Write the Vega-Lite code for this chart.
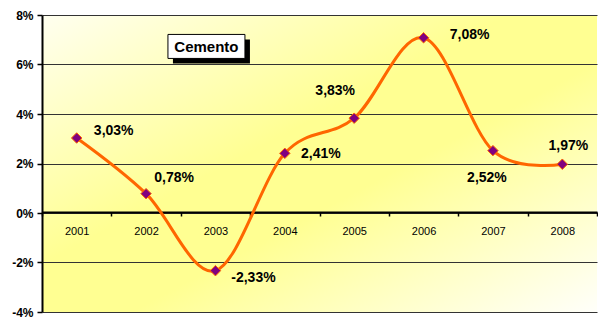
{
  "$schema": "https://vega.github.io/schema/vega-lite/v6.json",
  "width": 555,
  "height": 297,
  "autosize": {"type": "none"},
  "padding": {"left": 42, "top": 15, "right": 1, "bottom": 7},
  "background": "white",
  "config": {
    "font": "Liberation Sans",
    "view": {
      "stroke": null,
      "fill": {"gradient": "linear", "x1": 0, "y1": 0, "x2": 1, "y2": 1,
        "stops": [
          {"offset": 0, "color": "#FFFFF0"},
          {"offset": 0.42, "color": "#FFFF92"},
          {"offset": 0.58, "color": "#FFFF92"},
          {"offset": 1, "color": "#FFFFFA"}
        ]}
    },
    "locale": {"number": {"decimal": ",", "thousands": ".", "grouping": [3], "currency": ["", " €"], "minus": "-"}}
  },
  "data": {
    "values": [
      {"year": "2001", "v": 0.0303},
      {"year": "2002", "v": 0.0078},
      {"year": "2003", "v": -0.0233},
      {"year": "2004", "v": 0.0241},
      {"year": "2005", "v": 0.0383},
      {"year": "2006", "v": 0.0708},
      {"year": "2007", "v": 0.0252},
      {"year": "2008", "v": 0.0197}
    ]
  },
  "layer": [
    {
      "mark": {"type": "line", "interpolate": "cardinal", "color": "#FF6600", "strokeWidth": 3},
      "encoding": {
        "x": {"field": "year", "type": "ordinal", "title": null,
          "scale": {"type": "band", "paddingInner": 0, "paddingOuter": 0},
          "axis": {"offset": -100, "domainColor": "black", "domainWidth": 2, "tickColor": "black", "tickSize": 4, "tickWidth": 1.5,
            "tickBand": "extent", "labelAngle": 0, "labelFontSize": 11, "labelColor": "black", "labelPadding": 9, "labelFont": "Liberation Sans"}},
        "y": {"field": "v", "type": "quantitative", "title": null,
          "scale": {"domain": [-0.04, 0.08], "nice": false, "zero": false},
          "axis": {"values": [-0.04, -0.02, 0, 0.02, 0.04, 0.06, 0.08], "format": ".0%", "grid": true, "gridColor": "#333333", "gridWidth": 1,
            "domainColor": "black", "domainWidth": 2, "tickColor": "black", "tickSize": 5, "tickWidth": 1.5,
            "labelFontSize": 12, "labelFontWeight": "bold", "labelColor": "black", "labelPadding": 4}}
      }
    },
    {
      "mark": {"type": "point", "shape": "diamond", "filled": true, "fill": "#800080", "stroke": "#FF6600", "strokeWidth": 1, "size": 110, "opacity": 1},
      "encoding": {"x": {"field": "year", "type": "ordinal"}, "y": {"field": "v", "type": "quantitative"}}
    },
    {"transform": [{"filter": "datum.year == '2001'"}], "mark": {"type": "text", "fontSize": 14, "fontWeight": "bold", "color": "black", "align": "center", "baseline": "middle", "dx": 37, "dy": -7},
      "encoding": {"x": {"field": "year", "type": "ordinal"}, "y": {"field": "v", "type": "quantitative"}, "text": {"field": "v", "type": "quantitative", "format": ".2%"}}},
    {"transform": [{"filter": "datum.year == '2002'"}], "mark": {"type": "text", "fontSize": 14, "fontWeight": "bold", "color": "black", "align": "center", "baseline": "middle", "dx": 28, "dy": -16},
      "encoding": {"x": {"field": "year", "type": "ordinal"}, "y": {"field": "v", "type": "quantitative"}, "text": {"field": "v", "type": "quantitative", "format": ".2%"}}},
    {"transform": [{"filter": "datum.year == '2003'"}], "mark": {"type": "text", "fontSize": 14, "fontWeight": "bold", "color": "black", "align": "center", "baseline": "middle", "dx": 38, "dy": 7},
      "encoding": {"x": {"field": "year", "type": "ordinal"}, "y": {"field": "v", "type": "quantitative"}, "text": {"field": "v", "type": "quantitative", "format": ".2%"}}},
    {"transform": [{"filter": "datum.year == '2004'"}], "mark": {"type": "text", "fontSize": 14, "fontWeight": "bold", "color": "black", "align": "center", "baseline": "middle", "dx": 36, "dy": 1},
      "encoding": {"x": {"field": "year", "type": "ordinal"}, "y": {"field": "v", "type": "quantitative"}, "text": {"field": "v", "type": "quantitative", "format": ".2%"}}},
    {"transform": [{"filter": "datum.year == '2005'"}], "mark": {"type": "text", "fontSize": 14, "fontWeight": "bold", "color": "black", "align": "center", "baseline": "middle", "dx": -19, "dy": -27},
      "encoding": {"x": {"field": "year", "type": "ordinal"}, "y": {"field": "v", "type": "quantitative"}, "text": {"field": "v", "type": "quantitative", "format": ".2%"}}},
    {"transform": [{"filter": "datum.year == '2006'"}], "mark": {"type": "text", "fontSize": 14, "fontWeight": "bold", "color": "black", "align": "center", "baseline": "middle", "dx": 46, "dy": -3},
      "encoding": {"x": {"field": "year", "type": "ordinal"}, "y": {"field": "v", "type": "quantitative"}, "text": {"field": "v", "type": "quantitative", "format": ".2%"}}},
    {"transform": [{"filter": "datum.year == '2007'"}], "mark": {"type": "text", "fontSize": 14, "fontWeight": "bold", "color": "black", "align": "center", "baseline": "middle", "dx": -6, "dy": 27},
      "encoding": {"x": {"field": "year", "type": "ordinal"}, "y": {"field": "v", "type": "quantitative"}, "text": {"field": "v", "type": "quantitative", "format": ".2%"}}},
    {"transform": [{"filter": "datum.year == '2008'"}], "mark": {"type": "text", "fontSize": 14, "fontWeight": "bold", "color": "black", "align": "center", "baseline": "middle", "dx": 6, "dy": -18},
      "encoding": {"x": {"field": "year", "type": "ordinal"}, "y": {"field": "v", "type": "quantitative"}, "text": {"field": "v", "type": "quantitative", "format": ".2%"}}},
    {
      "data": {"values": [{"year": "2003", "v": 0.0673, "name": "Cemento"}]},
      "layer": [
        {"mark": {"type": "point", "shape": "M-1,-0.3117H1V0.3117H-1Z", "size": 5929, "filled": true, "fill": "black", "strokeWidth": 0, "opacity": 1, "xOffset": -4, "yOffset": 5},
          "encoding": {"x": {"field": "year", "type": "ordinal"}, "y": {"field": "v", "type": "quantitative"}}},
        {"mark": {"type": "point", "shape": "M-1,-0.3117H1V0.3117H-1Z", "size": 5929, "filled": true, "fill": "white", "stroke": "black", "strokeWidth": 1, "opacity": 1, "xOffset": -9},
          "encoding": {"x": {"field": "year", "type": "ordinal"}, "y": {"field": "v", "type": "quantitative"}}},
        {"mark": {"type": "text", "fontSize": 15, "fontWeight": "bold", "color": "black", "align": "center", "baseline": "middle", "dx": -9, "dy": 1},
          "encoding": {"x": {"field": "year", "type": "ordinal"}, "y": {"field": "v", "type": "quantitative"}, "text": {"field": "name"}}}
      ]
    }
  ]
}
